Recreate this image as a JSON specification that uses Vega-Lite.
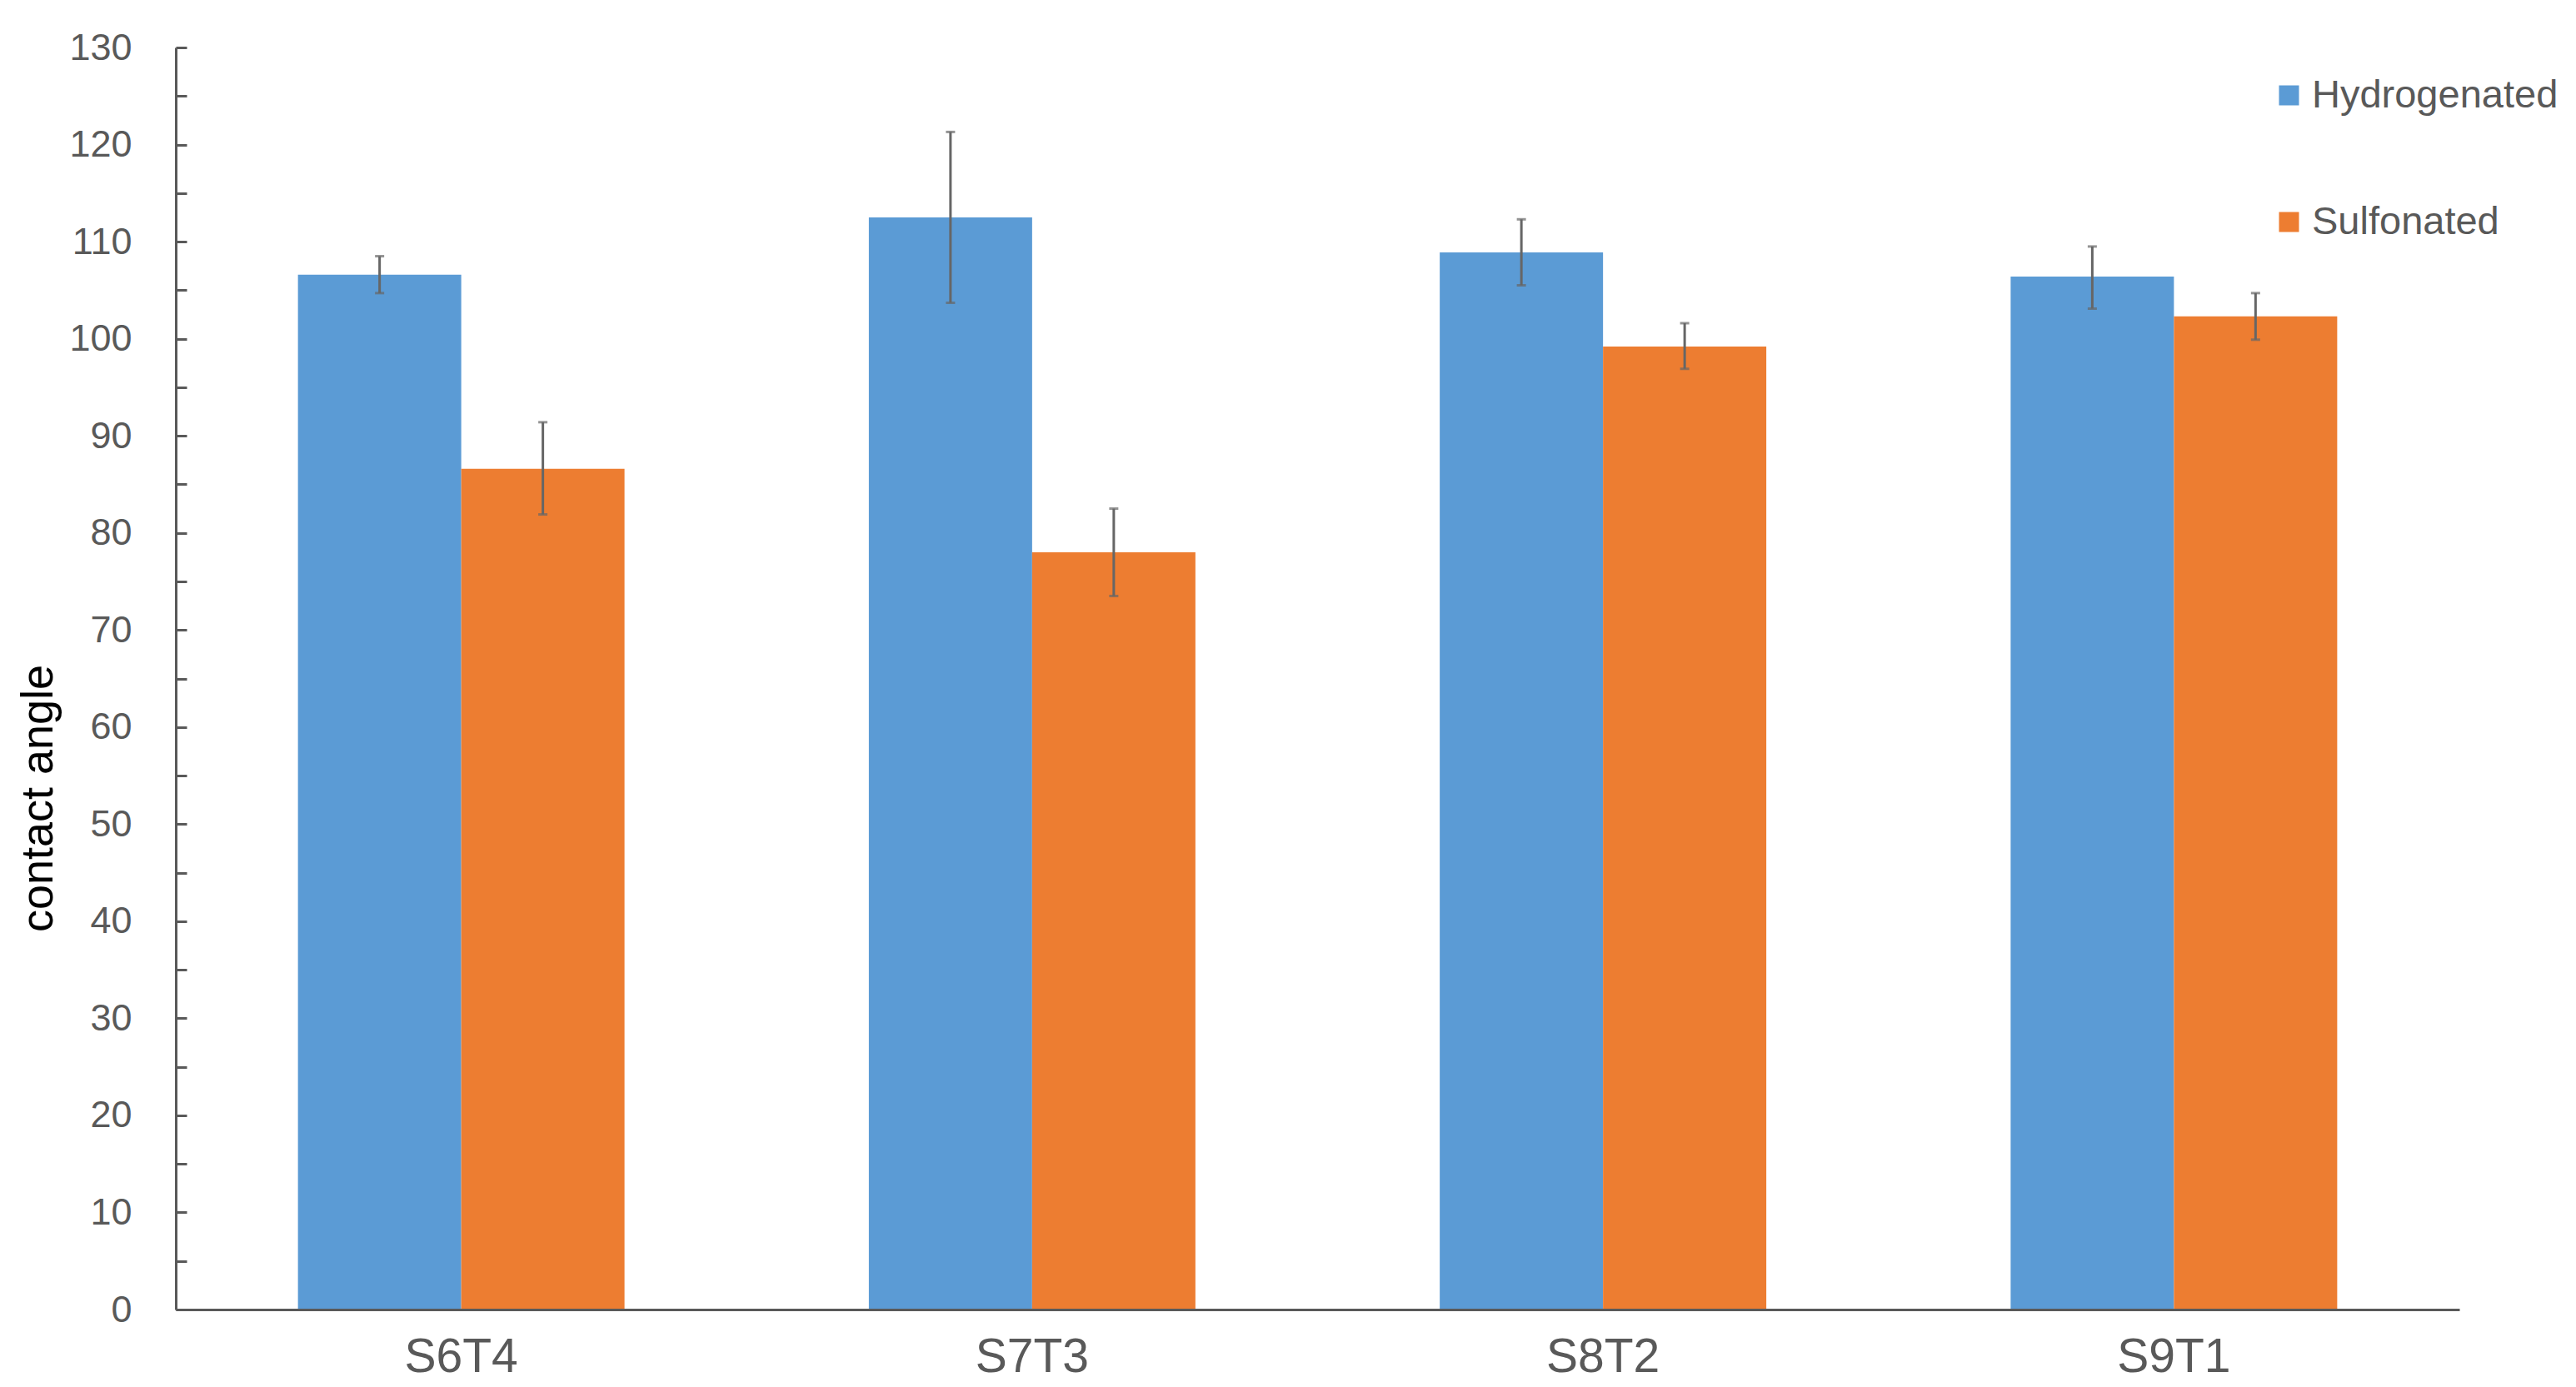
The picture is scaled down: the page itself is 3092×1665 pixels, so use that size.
{
  "$schema": "https://vega.github.io/schema/vega-lite/v6.json",
  "width": 2741,
  "height": 1515,
  "autosize": {"type": "none"},
  "padding": {"left": 211, "top": 57, "right": 140, "bottom": 93},
  "background": "white",
  "config": {"view": {"stroke": null}, "font": "Liberation Sans"},
  "data": {
    "values": [
      {"sample": "S6T4", "treatment": "Hydrogenated", "angle": 106.6, "low": 104.7, "high": 108.5},
      {"sample": "S6T4", "treatment": "Sulfonated", "angle": 86.6, "low": 81.9, "high": 91.4},
      {"sample": "S7T3", "treatment": "Hydrogenated", "angle": 112.5, "low": 103.7, "high": 121.3},
      {"sample": "S7T3", "treatment": "Sulfonated", "angle": 78.0, "low": 73.5, "high": 82.5},
      {"sample": "S8T2", "treatment": "Hydrogenated", "angle": 108.9, "low": 105.5, "high": 112.3},
      {"sample": "S8T2", "treatment": "Sulfonated", "angle": 99.2, "low": 96.9, "high": 101.6},
      {"sample": "S9T1", "treatment": "Hydrogenated", "angle": 106.4, "low": 103.1, "high": 109.5},
      {"sample": "S9T1", "treatment": "Sulfonated", "angle": 102.3, "low": 99.9, "high": 104.7}
    ]
  },
  "encoding": {
    "x": {
      "field": "sample",
      "type": "nominal",
      "sort": ["S6T4", "S7T3", "S8T2", "S9T1"],
      "scale": {"paddingInner": 0.428, "paddingOuter": 0.214},
      "axis": {
        "title": null,
        "ticks": false,
        "labelAngle": 0,
        "labelFontSize": 57,
        "labelColor": "#595959",
        "labelPadding": 29,
        "labelBaseline": "top",
        "domainColor": "#595959",
        "domainWidth": 3,
        "zindex": 1
      }
    },
    "xOffset": {
      "field": "treatment",
      "type": "nominal",
      "sort": ["Hydrogenated", "Sulfonated"],
      "scale": {"paddingInner": 0, "paddingOuter": 0}
    }
  },
  "layer": [
    {
      "mark": {"type": "bar"},
      "encoding": {
        "y": {
          "field": "angle",
          "type": "quantitative",
          "title": "contact angle",
          "scale": {"domain": [0, 130], "nice": false, "zero": true},
          "axis": {
            "values": [0, 5, 10, 15, 20, 25, 30, 35, 40, 45, 50, 55, 60, 65, 70, 75, 80, 85, 90, 95, 100, 105, 110, 115, 120, 125, 130],
            "labelExpr": "datum.value % 10 === 0 ? datum.label : ''",
            "labelOverlap": false,
            "grid": false,
            "tickSize": -13,
            "tickWidth": 3,
            "tickColor": "#595959",
            "domainColor": "#595959",
            "domainWidth": 3,
            "labelFontSize": 45,
            "labelColor": "#595959",
            "labelPadding": 66,
            "titleFontSize": 54,
            "titleColor": "#000000",
            "titleFontWeight": "normal",
            "titleAngle": 270,
            "titleX": -165,
            "titleY": 901,
            "titleAlign": "center",
            "titleBaseline": "middle",
            "zindex": 1
          }
        },
        "color": {
          "field": "treatment",
          "type": "nominal",
          "scale": {"domain": ["Hydrogenated", "Sulfonated"], "range": ["#5B9BD5", "#ED7D31"]},
          "legend": {
            "orient": "none",
            "legendX": 2513,
            "legendY": 34,
            "title": null,
            "direction": "vertical",
            "symbolType": "square",
            "symbolSize": 576,
            "symbolStrokeWidth": 0,
            "labelFontSize": 47,
            "labelColor": "#595959",
            "labelOffset": 4,
            "labelLimit": 0,
            "rowPadding": 104
          }
        }
      }
    },
    {
      "mark": {"type": "rule", "color": "#666666", "strokeWidth": 3},
      "encoding": {
        "y": {"field": "low", "type": "quantitative", "title": "contact angle"},
        "y2": {"field": "high"}
      }
    },
    {
      "mark": {"type": "tick", "color": "#666666", "thickness": 3, "size": 11},
      "encoding": {
        "y": {"field": "low", "type": "quantitative", "title": "contact angle"}
      }
    },
    {
      "mark": {"type": "tick", "color": "#666666", "thickness": 3, "size": 11},
      "encoding": {
        "y": {"field": "high", "type": "quantitative", "title": "contact angle"}
      }
    }
  ]
}
